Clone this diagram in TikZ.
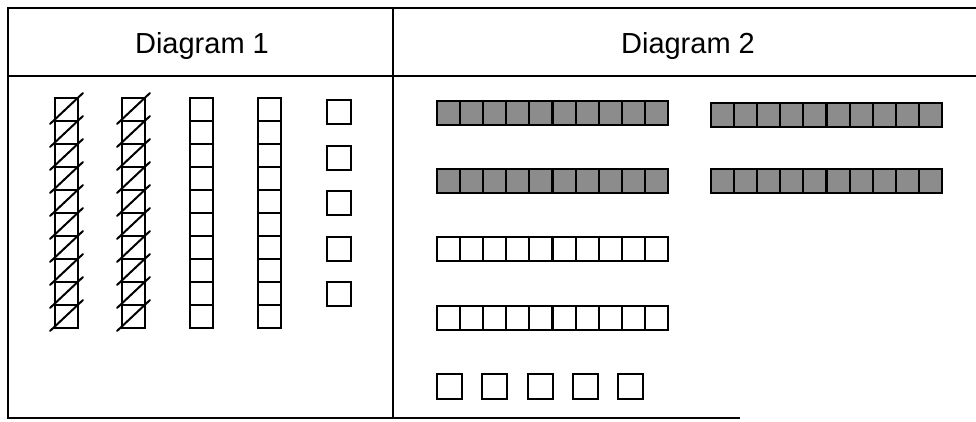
\documentclass[tikz,border=0pt]{standalone}
\usepackage{fontspec}
\setmainfont{Liberation Sans}
\usetikzlibrary{positioning}

\begin{document}
\begin{tikzpicture}[x=1pt,y=-1pt,
  frame/.style={line width=2.4pt,black},
  cell/.style={draw=black,line width=2.1pt},
  shd/.style={cell,fill=black!45},
  slash/.style={line width=2pt,line cap=round},
  lbl/.style={font=\fontsize{29}{32}\selectfont,anchor=base}]
\useasboundingbox (0,0) rectangle (976,421);
% table
\draw[frame] (976,8) -- (8,8) -- (8,418) -- (740,418);
\draw[frame] (8,76) -- (976,76);
\draw[frame] (393,8) -- (393,418);
\node[lbl] (head1) at (202,53) {Diagram 1};
\node[lbl] (head2) at (688,53) {Diagram 2};
% Diagram 1: rods of ten, two crossed out
\foreach \x in {55,122}{
  \foreach \i in {0,...,9}{
    \draw[cell] (\x,98+23*\i) rectangle ++(23,23);
    \draw[slash] (\x-5,98+23*\i+26) -- (\x+28,98+23*\i-5);
  }
}
\foreach \x in {190,258}
  \foreach \i in {0,...,9}
    \draw[cell] (\x,98+23*\i) rectangle ++(23,23);
\foreach \i in {0,...,4}
  \draw[cell] (327,100+45.6*\i) rectangle ++(24,24);
% Diagram 2
\foreach \x/\y in {437/101,711/103,437/169,711/169}
  \foreach \i in {0,...,9}
    \draw[shd] (\x+23.1*\i,\y) rectangle ++(23.1,24);
\foreach \y in {237,306}
  \foreach \i in {0,...,9}
    \draw[cell] (437+23.1*\i,\y) rectangle ++(23.1,24);
\foreach \i in {0,...,4}
  \draw[cell] (437+45.3*\i,374) rectangle ++(25,25);
\end{tikzpicture}
\end{document}
